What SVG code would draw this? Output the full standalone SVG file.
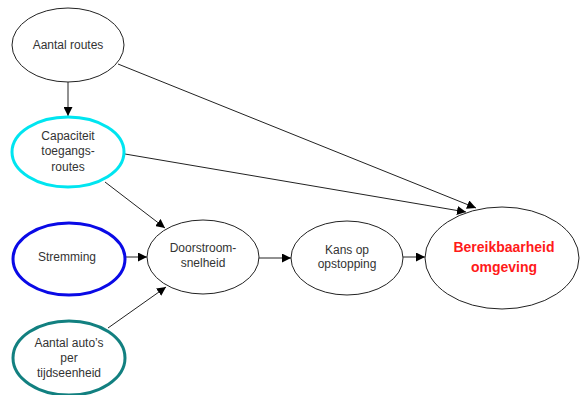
<svg xmlns="http://www.w3.org/2000/svg" width="580" height="395" viewBox="0 0 580 395">
  <style>
    .node { fill: #fff; stroke: #222; stroke-width: 1; }
    .lbl { font-family: "Liberation Sans", Arial, sans-serif; font-size: 12px; fill: #333; text-anchor: middle; }
    .goal { font-family: "Liberation Sans", Arial, sans-serif; font-size: 14px; font-weight: bold; fill: #ff1a1a; text-anchor: middle; }
    .edge { stroke: #222; stroke-width: 1; fill: none; marker-end: url(#arrow); }
  </style>
  <defs>
    <marker id="arrow" viewBox="0 0 10 10" refX="10" refY="5" markerWidth="9" markerHeight="9" markerUnits="userSpaceOnUse" orient="auto">
      <path d="M0,0 L10,5 L0,10 z" fill="#000"/>
    </marker>
  </defs>

  <g id="connectors">
    <line class="edge" x1="68" y1="82" x2="68" y2="116"/>
    <line class="edge" x1="118" y1="64" x2="476" y2="208"/>
    <line class="edge" x1="125" y1="154" x2="466" y2="212"/>
    <line class="edge" x1="105" y1="182" x2="165" y2="228"/>
    <line class="edge" x1="126" y1="257" x2="147" y2="257"/>
    <line class="edge" x1="108" y1="328" x2="166" y2="287"/>
    <line class="edge" x1="259" y1="258" x2="291" y2="258"/>
    <line class="edge" x1="403" y1="257" x2="425" y2="257"/>
  </g>

  <g id="aantal-routes">
    <ellipse class="node" cx="68" cy="45" rx="56" ry="37"/>
    <text class="lbl" x="68" y="49">Aantal routes</text>
  </g>

  <g id="capaciteit">
    <ellipse class="node" cx="68" cy="152" rx="56" ry="35" style="stroke:#00e5f0;stroke-width:3"/>
    <text class="lbl" x="68" y="140">Capaciteit</text>
    <text class="lbl" x="68" y="155">toegangs-</text>
    <text class="lbl" x="68" y="171">routes</text>
  </g>

  <g id="stremming">
    <ellipse class="node" cx="69" cy="259" rx="56" ry="36" style="stroke:#0a0ae6;stroke-width:3"/>
    <text class="lbl" x="67" y="261">Stremming</text>
  </g>

  <g id="aantal-autos">
    <ellipse class="node" cx="69" cy="358" rx="56" ry="37" style="stroke:#128080;stroke-width:3"/>
    <text class="lbl" x="69" y="347">Aantal auto’s</text>
    <text class="lbl" x="69" y="362">per</text>
    <text class="lbl" x="69" y="377">tijdseenheid</text>
  </g>

  <g id="doorstroomsnelheid">
    <ellipse class="node" cx="203" cy="257" rx="56" ry="37"/>
    <text class="lbl" x="203" y="252">Doorstroom-</text>
    <text class="lbl" x="203" y="267">snelheid</text>
  </g>

  <g id="kans-op-opstopping">
    <ellipse class="node" cx="347" cy="258" rx="56" ry="37"/>
    <text class="lbl" x="347" y="254">Kans op</text>
    <text class="lbl" x="347" y="268">opstopping</text>
  </g>

  <g id="bereikbaarheid">
    <ellipse class="node" cx="502" cy="258" rx="77" ry="51"/>
    <text class="goal" x="504" y="252">Bereikbaarheid</text>
    <text class="goal" x="504" y="272">omgeving</text>
  </g>
</svg>
